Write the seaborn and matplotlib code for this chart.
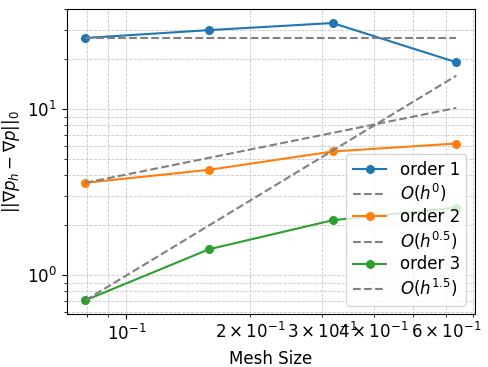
import matplotlib
matplotlib.use("Agg")
import matplotlib.pyplot as plt
import seaborn as sns
import numpy as np

# mesh sizes and errors
mesh_size = [0.0795, 0.159, 0.318, 0.636]
err_order1 = [26.9, 30.0, 33.1, 19.2]
err_order2 = [3.60, 4.31, 5.56, 6.21]
err_order3 = [0.704, 1.43, 2.14, 2.55]
orders = ["order 1", "order 2", "order 3"]
rates = [0, 0.5, 1.5]
rate_labels = ["$O(h^{0})$", "$O(h^{0.5})$", "$O(h^{1.5})$"]

plt.rcParams["font.size"] = 12

fig = plt.figure(figsize=(4.88, 3.67), dpi=100)
ax = fig.add_axes([0.137, 0.144, 0.836, 0.831])

h = np.array(mesh_size)
for name, err, rate, rlab, col in zip(orders, [err_order1, err_order2, err_order3],
                                      rates, rate_labels, sns.color_palette("tab10", 3)):
    sns.lineplot(x=mesh_size, y=err, marker="o", markeredgewidth=0, markersize=6.5,
                 color=col, label=name, ax=ax)
    # reference slope starting at the first error value
    ref = err[0] * (h / h[0]) ** rate
    sns.lineplot(x=mesh_size, y=ref, color="gray", linestyle="--", label=rlab, ax=ax)

ax.set_xscale("log")
ax.set_yscale("log")
ax.grid(True, which="both", ls="--", lw=0.6, color="#c8c8c8")
ax.set_xlabel("Mesh Size")
ax.set_ylabel(r"$||\nabla p_h - \nabla p||_0$")
ax.legend(loc="lower right", labelspacing=0.22, borderaxespad=0.5)

plt.savefig("out.png", dpi=100)
plt.close()
